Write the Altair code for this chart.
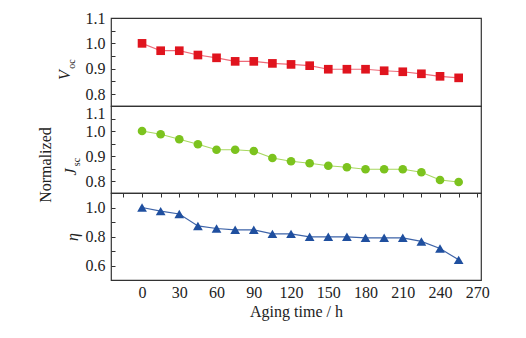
import altair as alt
import pandas as pd

hours = [0, 15, 30, 45, 60, 75, 90, 105, 120, 135, 150, 165, 180, 195, 210, 225, 240, 255]
voc = [1.0, 0.971, 0.971, 0.954, 0.943, 0.929, 0.929, 0.921, 0.917, 0.912, 0.898, 0.898,
       0.898, 0.892, 0.888, 0.880, 0.870, 0.864]
jsc = [1.0, 0.987, 0.967, 0.947, 0.925, 0.925, 0.920, 0.892, 0.879, 0.871, 0.861, 0.855,
       0.847, 0.847, 0.847, 0.835, 0.804, 0.796]
eta = [1.0, 0.975, 0.955, 0.873, 0.855, 0.846, 0.846, 0.818, 0.818, 0.798, 0.798, 0.798,
       0.791, 0.791, 0.791, 0.766, 0.717, 0.639]
x_labels = [0, 30, 60, 90, 120, 150, 180, 210, 240, 270]
x_ticks = [-15, 0, 15, 30, 45, 60, 75, 90, 105, 120, 135, 150, 165, 180, 195, 210, 225, 240, 255, 270]

FONT = "Liberation Serif"
FS = 16
W = 370
XDOM = [-25, 273]


def label_axis(vals, shift_top=False):
    kw = {}
    if shift_top:
        kw["labelBaseline"] = {"condition": {"test": "datum.value > 1.05", "value": "line-top"},
                               "value": "middle"}
    return alt.Axis(values=vals, tickSize=0, domain=False, grid=False, title=None,
                    labelFont=FONT, labelFontSize=FS, labelColor="#222", labelPadding=6,
                    format=".1f", orient="left", labelLineHeight=14, **kw)


def panel(values, col, line_col, shape, size, ydom, ylabels, yticks, h, bottom, shift_top=False):
    df = pd.DataFrame({"t": hours, "v": values})
    xs = alt.Scale(domain=XDOM, nice=False, zero=False)
    ys = alt.Scale(domain=ydom, nice=False, zero=False)
    if bottom:
        xax = alt.Axis(values=x_labels, tickSize=0, domain=False, grid=False,
                       title="Aging time / h", labelFont=FONT, labelFontSize=FS,
                       titleFont=FONT, titleFontSize=FS, titleFontWeight="normal",
                       labelColor="#222", titleColor="#222", labelPadding=4, titlePadding=3)
    else:
        xax = None
    base = alt.Chart(df)
    line = base.mark_line(color=line_col, strokeWidth=1.2).encode(
        x=alt.X("t:Q", scale=xs, axis=xax),
        y=alt.Y("v:Q", scale=ys, axis=label_axis(ylabels, shift_top)),
    )
    pts = base.mark_point(shape=shape, filled=True, size=size, color=col, opacity=1).encode(
        x=alt.X("t:Q", scale=xs, axis=alt.Axis(values=x_ticks, tickSize=4, offset=-4, domain=False,
                                                labels=False, grid=False, title=None,
                                                tickColor="#333") if bottom else None),
        y=alt.Y("v:Q", scale=ys, axis=alt.Axis(values=yticks, tickSize=4, offset=-4, domain=False,
                                                labels=False, grid=False, title=None,
                                                tickColor="#333", orient="left")),
    )
    return alt.layer(line, pts).resolve_axis(y="independent", x="independent").properties(
        width=W, height=h)


def frange(a, b, s):
    out = []
    v = a
    while v <= b + 1e-9:
        out.append(round(v, 3))
        v += s
    return out


top = panel(voc, "#e0141e", "#ee6a78", "square", 75, [0.753, 1.1],
            [0.8, 0.9, 1.0, 1.1], frange(0.8, 1.1, 0.05), 88, False)
mid = panel(jsc, "#7cc31e", "#a8d860", "circle", 75, [0.752, 1.1],
            [0.8, 0.9, 1.0, 1.1], frange(0.8, 1.1, 0.05), 87, False, shift_top=True)
bot = panel(eta, "#1f4f9f", "#3d63a8", "triangle-up", 95, [0.5, 1.1],
            [0.6, 0.8, 1.0], frange(0.6, 1.1, 0.1), 87, True)


def lab(text, x, y, size=FS, style="italic"):
    return alt.Chart(pd.DataFrame({"s": [text]})).mark_text(
        font=FONT, fontSize=size, fontStyle=style, angle=270, color="#222",
        baseline="middle", align="center").encode(
        text="s:N", x=alt.value(x), y=alt.value(y))


top = alt.layer(top, lab("V", -46, 57), lab("oc", -39, 46, 10, "normal"))
mid = alt.layer(mid, lab("J", -40, 66), lab("sc", -34, 56, 10, "normal"),
                lab("Normalized", -65, 59, FS, "normal"))
bot = alt.layer(bot, lab("η", -38, 44))

chart = alt.vconcat(top, mid, bot, spacing=0, bounds="flush").configure_view(
    stroke="#333", strokeWidth=1.2).properties(
    padding={"left": 37, "top": 9, "right": 5, "bottom": 5})

chart.save("out.html", embed_options={"renderer": "svg", "actions": False})
